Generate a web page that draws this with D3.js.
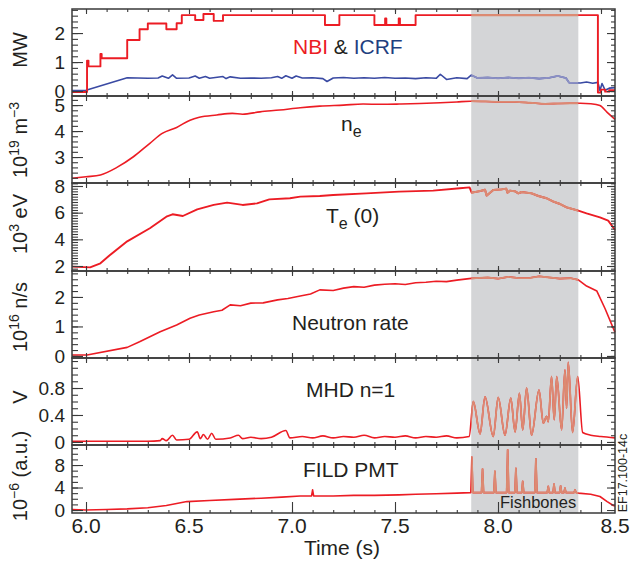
<!DOCTYPE html>
<html>
<head>
<meta charset="utf-8">
<script src="https://d3js.org/d3.v7.min.js"></script>
<style>
body { margin: 0; background: #fff; }
svg text { font-family: "Liberation Sans", Arial, sans-serif; fill: #231f20; }
.frame { fill: none; stroke: #3a3a3a; stroke-width: 1.5; }
.ax .tick line { stroke: #3a3a3a; stroke-width: 1.1; }
.ax .domain { stroke: none; }
</style>
</head>
<body>
<svg id="chart" width="630" height="565"></svg>
<script>
// ---- data ----
const xTicks = [6.0, 6.5, 7.0, 7.5, 8.0, 8.5];
const xTickLabels = ["6.0", "6.5", "7.0", "7.5", "8.0", "8.5"];
const fishbones = [7.87, 8.39];

// NBI power (MW), step levels
const nbiT = [5.932, 6.005, 6.012, 6.07, 6.076, 6.2, 6.26, 6.3, 6.39, 6.44, 6.465, 6.53, 6.57, 6.62, 6.665, 7.16, 7.23, 7.40, 7.452, 7.458, 7.518, 7.524, 7.60, 8.485, 8.5, 8.52, 8.54, 8.568];
const nbiV = [-0.03, 1.05, 0.85, 1.28, 1.13, 1.76, 2.13, 2.33, 2.13, 2.34, 2.62, 2.45, 2.66, 2.42, 2.62, 2.28, 2.62, 2.28, 2.5, 2.28, 2.5, 2.28, 2.62, -0.05, 0.05, -0.02, 0.03, 0.03];

// ICRF power (MW)
const icrfT = [5.932, 6.0, 6.2, 6.25, 6.3, 6.35, 6.37, 6.40, 6.42, 6.44, 6.5, 6.53, 6.55, 6.58, 6.6, 6.665, 6.68, 6.7, 6.75, 6.8, 6.85, 6.9, 6.93, 6.95, 6.97, 7.0, 7.02, 7.05, 7.1, 7.15, 7.17, 7.2, 7.25, 7.3, 7.35, 7.4, 7.45, 7.5, 7.55, 7.6, 7.65, 7.7, 7.72, 7.75, 7.8, 7.85, 7.87, 7.9, 7.95, 8.0, 8.05, 8.1, 8.15, 8.2, 8.25, 8.29, 8.33, 8.345, 8.4, 8.43, 8.46, 8.485, 8.495, 8.505, 8.52, 8.54, 8.568];
const icrfV = [0.02, 0.03, 0.46, 0.45, 0.44, 0.45, 0.52, 0.44, 0.56, 0.44, 0.45, 0.52, 0.44, 0.50, 0.44, 0.50, 0.43, 0.49, 0.44, 0.45, 0.44, 0.46, 0.50, 0.44, 0.53, 0.44, 0.52, 0.45, 0.46, 0.43, 0.33, 0.45, 0.47, 0.44, 0.46, 0.44, 0.47, 0.44, 0.45, 0.43, 0.46, 0.44, 0.58, 0.40, 0.46, 0.43, 0.55, 0.45, 0.47, 0.44, 0.47, 0.44, 0.46, 0.43, 0.46, 0.52, 0.45, 0.29, 0.28, 0.31, 0.27, 0.30, 0.02, 0.26, 0.03, 0.10, 0.12];

// line-averaged density (1e19 m^-3)
const neT = [5.932, 6.0, 6.07, 6.15, 6.23, 6.31, 6.37, 6.44, 6.505, 6.55, 6.635, 6.71, 6.76, 6.845, 6.94, 7.04, 7.135, 7.25, 7.345, 7.43, 7.52, 7.62, 7.72, 7.80, 7.865, 7.94, 8.01, 8.08, 8.155, 8.23, 8.29, 8.35, 8.40, 8.45, 8.495, 8.53, 8.568];
const neV = [2.18, 2.24, 2.31, 2.60, 3.01, 3.53, 3.91, 4.14, 4.42, 4.53, 4.62, 4.68, 4.65, 4.74, 4.81, 4.90, 4.96, 5.00, 5.04, 5.03, 5.04, 5.06, 5.09, 5.12, 5.15, 5.14, 5.12, 5.12, 5.09, 5.05, 5.06, 5.07, 5.07, 5.05, 4.98, 4.72, 4.45];

// central electron temperature (keV)
const teT = [5.932, 6.02, 6.07, 6.115, 6.2, 6.31, 6.39, 6.42, 6.47, 6.54, 6.62, 6.685, 6.76, 6.83, 6.89, 6.99, 7.04, 7.135, 7.2, 7.36, 7.52, 7.685, 7.815, 7.862, 7.872, 7.913, 7.937, 7.945, 7.977, 8.018, 8.04, 8.046, 8.058, 8.083, 8.099, 8.115, 8.139, 8.163, 8.196, 8.236, 8.269, 8.301, 8.333, 8.39, 8.43, 8.495, 8.535, 8.568];
const teV = [1.95, 1.9, 2.2, 2.8, 3.85, 4.83, 5.7, 5.88, 5.75, 6.25, 6.58, 6.75, 6.58, 6.7, 7.0, 7.08, 7.2, 7.25, 7.33, 7.45, 7.58, 7.65, 7.83, 7.9, 7.5, 7.62, 7.72, 7.28, 7.7, 7.75, 7.8, 7.5, 7.65, 7.6, 7.45, 7.55, 7.5, 7.45, 7.25, 7.08, 6.83, 6.65, 6.4, 6.15, 5.95, 5.65, 5.4, 4.7];

// neutron rate (1e16 n/s)
const nT = [5.932, 6.005, 6.2, 6.26, 6.36, 6.44, 6.505, 6.55, 6.62, 6.66, 6.70, 6.75, 6.8, 6.86, 6.93, 6.98, 7.04, 7.09, 7.135, 7.2, 7.25, 7.3, 7.35, 7.4, 7.45, 7.5, 7.55, 7.6, 7.65, 7.7, 7.75, 7.8, 7.87, 7.95, 8.0, 8.05, 8.1, 8.15, 8.2, 8.25, 8.3, 8.35, 8.39, 8.43, 8.48, 8.52, 8.568];
const nV = [0.03, 0.03, 0.29, 0.48, 0.82, 1.05, 1.28, 1.39, 1.5, 1.55, 1.73, 1.70, 1.79, 1.80, 1.9, 1.95, 2.03, 2.10, 2.24, 2.22, 2.30, 2.35, 2.33, 2.40, 2.43, 2.45, 2.42, 2.48, 2.50, 2.53, 2.52, 2.57, 2.63, 2.66, 2.62, 2.68, 2.64, 2.64, 2.70, 2.66, 2.62, 2.64, 2.58, 2.37, 2.2, 1.6, 0.8];

// MHD n=1 amplitude (V)
const mhdT = [5.932, 6.3, 6.36, 6.37, 6.39, 6.42, 6.44, 6.5, 6.54, 6.555, 6.57, 6.59, 6.61, 6.63, 6.7, 6.74, 6.76, 6.8, 6.85, 6.9, 6.97, 6.99, 7.05, 7.1, 7.15, 7.2, 7.25, 7.3, 7.35, 7.4, 7.45, 7.5, 7.55, 7.6, 7.65, 7.7, 7.75, 7.8, 7.86, 7.88, 7.913, 7.937, 7.977, 8.001, 8.034, 8.062, 8.083, 8.104, 8.12, 8.139, 8.163, 8.199, 8.22, 8.236, 8.244, 8.26, 8.273, 8.285, 8.309, 8.325, 8.333, 8.341, 8.362, 8.387, 8.411, 8.45, 8.5, 8.568];
const mhdV = [0.01, 0.01, 0.02, 0.05, 0.02, 0.1, 0.03, 0.04, 0.15, 0.05, 0.11, 0.04, 0.13, 0.04, 0.06, 0.1, 0.05, 0.07, 0.05, 0.07, 0.17, 0.06, 0.08, 0.06, 0.09, 0.06, 0.08, 0.07, 0.1, 0.06, 0.08, 0.07, 0.09, 0.06, 0.08, 0.07, 0.09, 0.06, 0.08, 0.6, 0.12, 0.67, 0.08, 0.66, 0.1, 0.65, 0.15, 0.72, 0.18, 0.8, 0.1, 0.77, 0.28, 0.38, 0.3, 0.97, 0.33, 0.97, 0.18, 1.07, 0.5, 1.18, 0.14, 0.97, 0.14, 0.1, 0.08, 0.06];

// FILD PMT signal (1e-6 a.u.)
const fildT = [5.932, 6.0, 6.1, 6.2, 6.3, 6.39, 6.49, 6.6, 6.72, 6.85, 6.95, 7.04, 7.095, 7.1, 7.105, 7.2, 7.3, 7.4, 7.52, 7.6, 7.7, 7.8, 7.868, 7.873, 7.878, 7.92, 7.925, 7.93, 7.98, 7.985, 7.99, 8.042, 8.047, 8.052, 8.082, 8.087, 8.092, 8.115, 8.12, 8.125, 8.179, 8.184, 8.189, 8.239, 8.244, 8.249, 8.267, 8.272, 8.277, 8.299, 8.304, 8.309, 8.32, 8.325, 8.33, 8.369, 8.374, 8.379, 8.39, 8.45, 8.495, 8.53, 8.56, 8.568];
const fildV = [0.1, 0.0, 0.1, 0.2, 0.4, 0.8, 1.5, 1.7, 1.9, 2.1, 2.3, 2.5, 2.5, 3.6, 2.5, 2.5, 2.6, 2.6, 2.7, 2.8, 2.9, 3.0, 3.1, 9.4, 3.1, 3.1, 7.3, 3.1, 3.1, 6.9, 3.1, 3.1, 10.7, 3.1, 3.1, 7.4, 3.1, 3.1, 5.1, 3.1, 3.1, 9.1, 3.1, 3.1, 4.2, 3.1, 3.1, 4.6, 3.1, 3.1, 4.3, 3.1, 3.1, 3.9, 3.1, 3.1, 3.6, 3.1, 3.0, 2.8, 2.4, 1.5, 0.8, 0.7];

// y ticks per panel
const mwTicks = [0, 1, 2];
const neTicks = [3, 4, 5];
const teTicks = [2, 4, 6, 8];
const nTicks = [0, 1, 2];
const mhdTicks = [0, 0.4, 0.8];
const mhdTickLabels = ["0", "0.4", "0.8"];
const fildTicks = [0, 4, 8];

// ---- layout ----
const svg = d3.select('#chart');
const left = 72, right = 615;
const red = '#ec1c24', redIn = '#dc8a72', blue = '#3a4aa3', blueIn = '#8c90c4';

const x = d3.scaleLinear().domain([5.932, 8.568]).range([left, right]);

const panels = [
  {top: 9,   bottom: 96,  domain: [-0.17, 2.83], ticks: mwTicks, minor: 0.2},
  {top: 96,  bottom: 183, domain: [2.0, 5.35],   ticks: neTicks, minor: 0.2},
  {top: 183, bottom: 271, domain: [1.625, 8.225], ticks: teTicks, minor: 0.2},
  {top: 271, bottom: 358, domain: [-0.07, 2.88], ticks: nTicks, minor: 0.2},
  {top: 358, bottom: 445, domain: [-0.045, 1.245], ticks: mhdTicks, minor: 0.1, labels: mhdTickLabels},
  {top: 445, bottom: 513, domain: [-0.53, 11.56], ticks: fildTicks, minor: 1}
];
panels.forEach(p => {
  p.y = d3.scaleLinear().domain(p.domain).range([p.bottom, p.top]);
});

// shaded fishbone interval
svg.append('rect')
  .attr('x', x(fishbones[0]))
  .attr('y', panels[0].top)
  .attr('width', x(fishbones[1]) - x(fishbones[0]))
  .attr('height', panels[5].bottom - panels[0].top)
  .attr('fill', '#d4d5d7');

svg.append('clipPath').attr('id', 'inside')
  .append('rect')
  .attr('x', x(fishbones[0]))
  .attr('y', 0)
  .attr('width', x(fishbones[1]) - x(fishbones[0]))
  .attr('height', 565);

const series = [
  {p: 0, t: icrfT, v: icrfV, c: blue, ci: blueIn, curve: d3.curveLinear, w: 1.6},
  {p: 0, t: nbiT, v: nbiV, c: red, ci: redIn, curve: d3.curveStepAfter, w: 1.9},
  {p: 1, t: neT, v: neV, c: red, ci: redIn, curve: d3.curveMonotoneX, w: 1.6},
  {p: 2, t: teT, v: teV, c: red, ci: redIn, curve: d3.curveLinear, w: 1.9},
  {p: 3, t: nT, v: nV, c: red, ci: redIn, curve: d3.curveLinear, w: 1.6},
  {p: 4, t: mhdT, v: mhdV, c: red, ci: redIn, curve: d3.curveMonotoneX, w: 1.6},
  {p: 5, t: fildT, v: fildV, c: red, ci: redIn, curve: d3.curveLinear, w: 1.6}
];

series.forEach(s => {
  const py = panels[s.p].y;
  const pts = s.t.map((t, i) => [t, s.v[i]]);
  const line = d3.line().x(d => x(d[0])).y(d => py(d[1])).curve(s.curve);
  svg.append('path').datum(pts)
    .attr('d', line).attr('fill', 'none')
    .attr('stroke', s.c).attr('stroke-width', s.w).attr('stroke-linejoin', 'round');
  svg.append('path').datum(pts)
    .attr('d', line).attr('fill', 'none')
    .attr('clip-path', 'url(#inside)')
    .attr('stroke', s.ci).attr('stroke-width', s.w + 0.2).attr('stroke-linejoin', 'round');
});

// axes, frames
const xMinor = d3.range(6.0, 8.56, 0.1);
panels.forEach((p, i) => {
  const d0 = p.domain[0], d1 = p.domain[1];
  const minor = d3.range(Math.ceil(d0 / p.minor) * p.minor, d1, p.minor);
  const labelOf = p.labels ? (d, k) => p.labels[k] : d => d3.format('d')(d);

  svg.append('g').attr('class', 'ax').attr('transform', `translate(${left},0)`)
    .call(d3.axisLeft(p.y).tickValues(minor).tickSize(-6).tickFormat(''));
  svg.append('g').attr('class', 'ax').attr('transform', `translate(${left},0)`)
    .style('font-size', '19px')
    .call(d3.axisLeft(p.y).tickValues(p.ticks).tickSize(-11).tickPadding(7).tickFormat(labelOf))
    .call(g => g.selectAll('text').attr('fill', '#231f20').style('font-family', '"Liberation Sans", Arial, sans-serif'));

  svg.append('g').attr('class', 'ax').attr('transform', `translate(${right},0)`)
    .call(d3.axisRight(p.y).tickValues(minor).tickSize(-4).tickFormat(''));
  svg.append('g').attr('class', 'ax').attr('transform', `translate(${right},0)`)
    .call(d3.axisRight(p.y).tickValues(p.ticks).tickSize(-8).tickFormat(''));

  svg.append('g').attr('class', 'ax').attr('transform', `translate(0,${p.top})`)
    .call(d3.axisTop(x).tickValues(xMinor).tickSize(-3).tickFormat(''));
  svg.append('g').attr('class', 'ax').attr('transform', `translate(0,${p.top})`)
    .call(d3.axisTop(x).tickValues(xTicks).tickSize(-5).tickFormat(''));
  svg.append('g').attr('class', 'ax').attr('transform', `translate(0,${p.bottom})`)
    .call(d3.axisBottom(x).tickValues(xMinor).tickSize(-3).tickFormat(''));
  svg.append('g').attr('class', 'ax').attr('transform', `translate(0,${p.bottom})`)
    .call(d3.axisBottom(x).tickValues(xTicks).tickSize(i === 5 ? -11 : -5).tickFormat(''));

  svg.append('rect').attr('class', 'frame')
    .attr('x', left).attr('y', p.top)
    .attr('width', right - left).attr('height', p.bottom - p.top);
});

// x tick labels
svg.append('g').selectAll('text').data(xTicks).join('text')
  .attr('x', (d, i) => x(d) + (i === xTicks.length - 1 ? 14 : 0))
  .attr('y', 533)
  .attr('text-anchor', 'middle')
  .style('font-size', '21px')
  .text((d, i) => xTickLabels[i]);

svg.append('text').attr('x', 342).attr('y', 555).attr('text-anchor', 'middle')
  .style('font-size', '21px').text('Time (s)');

// y titles
function yTitle(cy, parts) {
  const t = svg.append('text')
    .attr('transform', `translate(27,${cy}) rotate(-90)`)
    .attr('text-anchor', 'middle')
    .style('font-size', '20px');
  parts.forEach(pt => {
    const s = t.append('tspan').text(pt[0]);
    if (pt[1]) s.attr('dy', pt[1]);
    if (pt[2]) s.style('font-size', pt[2]);
  });
}
yTitle(50, [['MW']]);
yTitle(140, [['10'], ['19', -8, '14px'], [' m', 8], ['\u22123', -8, '14px']]);
yTitle(224, [['10'], ['3', -8, '14px'], [' eV', 8]]);
yTitle(317, [['10'], ['16', -8, '14px'], [' n/s', 8]]);
yTitle(397, [['V']]);
yTitle(476, [['10'], ['\u22126', -8, '14px'], [' (a.u.)', 8]]);

// panel labels
const nb = svg.append('text').attr('x', 293).attr('y', 54).style('font-size', '21px');
nb.append('tspan').style('fill', red).text('NBI');
nb.append('tspan').text(' & ');
nb.append('tspan').style('fill', '#1f3f7f').text('ICRF');

const ne = svg.append('text').attr('x', 341).attr('y', 131).style('font-size', '21px');
ne.append('tspan').text('n');
ne.append('tspan').attr('dy', 6).style('font-size', '16px').text('e');

const te = svg.append('text').attr('x', 326).attr('y', 223).style('font-size', '21px');
te.append('tspan').text('T');
te.append('tspan').attr('dy', 6).style('font-size', '16px').text('e');
te.append('tspan').attr('dy', -6).text(' (0)');

svg.append('text').attr('x', 292).attr('y', 330).style('font-size', '21px').text('Neutron rate');
svg.append('text').attr('x', 306).attr('y', 397).style('font-size', '21px').text('MHD n=1');
svg.append('text').attr('x', 303).attr('y', 477).style('font-size', '21px').text('FILD PMT');
svg.append('text').attr('x', 500).attr('y', 508).style('font-size', '16.5px').text('Fishbones');

svg.append('text')
  .attr('transform', 'translate(627,473) rotate(-90)')
  .attr('text-anchor', 'middle')
  .style('font-size', '12.5px')
  .text('EF17.100-14c');
</script>
</body>
</html>
